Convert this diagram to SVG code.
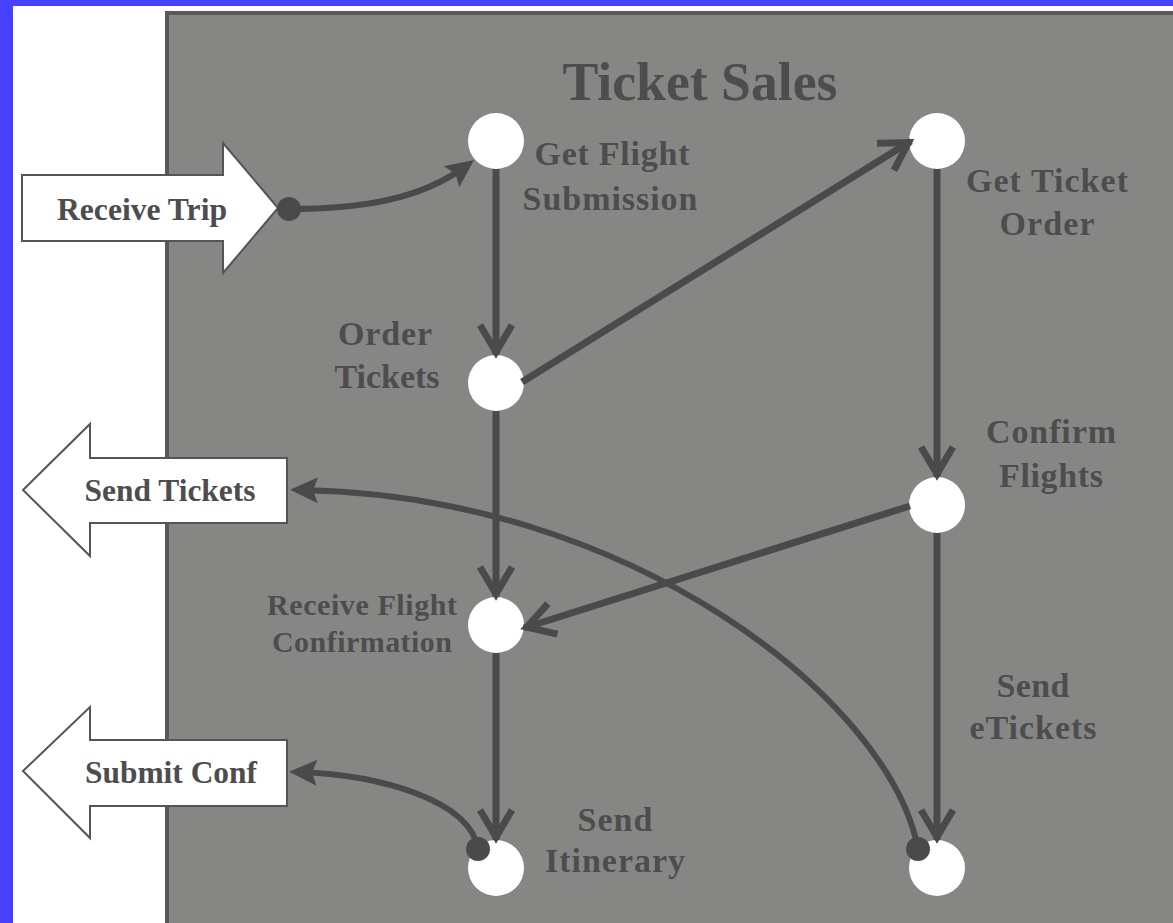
<svg xmlns="http://www.w3.org/2000/svg" width="1173" height="923" viewBox="0 0 1173 923">
<style>
.lbl{font-family:"Liberation Serif","Times New Roman",serif;font-weight:bold;fill:#4d4d4d;text-anchor:middle}
.big{fill:#ffffff;stroke:#555555;stroke-width:2}
.node{fill:#ffffff}
.ln{fill:none;stroke:#4a4a4a;stroke-width:7}
.cv{fill:none;stroke:#4a4a4a;stroke-width:6}
.dot{fill:#4a4a4a}
</style>
<defs>
<marker id="v" markerUnits="userSpaceOnUse" viewBox="-40 -25 50 50" markerWidth="50" markerHeight="50" refX="0" refY="0" orient="auto" overflow="visible">
<path d="M-30,-16 L-3,0 L-30,16" fill="none" stroke="#4a4a4a" stroke-width="7" stroke-linejoin="miter"/>
</marker>
<marker id="f" markerUnits="userSpaceOnUse" viewBox="-30 -20 45 40" markerWidth="45" markerHeight="40" refX="0" refY="0" orient="auto" overflow="visible">
<path d="M10,0 L-18,-13 L-13,0 L-18,13 Z" fill="#4a4a4a"/>
</marker>
</defs>
<rect x="0" y="0" width="1173" height="923" fill="#4541ff"/>
<rect x="13" y="6" width="1160" height="917" fill="#ffffff"/>
<rect x="167" y="13" width="1020" height="925" fill="#868785" stroke="#595959" stroke-width="4"/>
<text class="lbl" x="700" y="100" font-size="54" textLength="275" lengthAdjust="spacingAndGlyphs">Ticket Sales</text>

<g id="receive-trip">
<polygon class="big" points="22,175 223,175 223,143 278,208 223,273 223,241 22,241"/>
<text class="lbl" x="142" y="220" font-size="32" textLength="170" lengthAdjust="spacingAndGlyphs" fill="#444444">Receive Trip</text>
</g>
<g id="send-tickets">
<polygon class="big" points="287,458 90,458 90,424 23,490 90,556 90,523 287,523"/>
<text class="lbl" x="170" y="501" font-size="32" textLength="171" lengthAdjust="spacingAndGlyphs">Send Tickets</text>
</g>
<g id="submit-conf">
<polygon class="big" points="287,740 90,740 90,707 23,771 90,838 90,806 287,806"/>
<text class="lbl" x="171" y="783" font-size="32" textLength="172" lengthAdjust="spacingAndGlyphs">Submit Conf</text>
</g>

<g id="get-flight-submission">
<circle class="node" cx="496" cy="141" r="28"/>
<text class="lbl" x="612" y="165" font-size="34" textLength="155">Get Flight</text>
<text class="lbl" x="610" y="210" font-size="34" textLength="175">Submission</text>
</g>
<g id="get-ticket-order">
<circle class="node" cx="937" cy="141" r="28"/>
<text class="lbl" x="1047" y="192" font-size="34" textLength="162">Get Ticket</text>
<text class="lbl" x="1047" y="235" font-size="34" textLength="95">Order</text>
</g>
<g id="order-tickets">
<circle class="node" cx="496" cy="383" r="28"/>
<text class="lbl" x="385" y="345" font-size="34" textLength="94">Order</text>
<text class="lbl" x="387" y="388" font-size="34" textLength="105">Tickets</text>
</g>
<g id="confirm-flights">
<circle class="node" cx="937" cy="505" r="28"/>
<text class="lbl" x="1051" y="443" font-size="34" textLength="130">Confirm</text>
<text class="lbl" x="1051" y="487" font-size="34" textLength="104">Flights</text>
</g>
<g id="receive-flight-confirmation">
<circle class="node" cx="496" cy="625" r="28"/>
<text class="lbl" x="362" y="615" font-size="30" textLength="190">Receive Flight</text>
<text class="lbl" x="362" y="652" font-size="30" textLength="180">Confirmation</text>
</g>
<g id="send-itinerary">
<circle class="node" cx="496" cy="868" r="28"/>
<text class="lbl" x="615" y="831" font-size="34" textLength="75">Send</text>
<text class="lbl" x="615" y="872" font-size="34" textLength="140">Itinerary</text>
</g>
<g id="send-etickets">
<circle class="node" cx="937" cy="868" r="28"/>
<text class="lbl" x="1033" y="697" font-size="34" textLength="73">Send</text>
<text class="lbl" x="1033" y="739" font-size="34" textLength="127">eTickets</text>
</g>

<g id="connectors">
<path class="ln" d="M496,169 L496,355" marker-end="url(#v)"/>
<path class="ln" d="M496,411 L496,597" marker-end="url(#v)"/>
<path class="ln" d="M496,653 L496,840" marker-end="url(#v)"/>
<path class="ln" d="M937,169 L937,477" marker-end="url(#v)"/>
<path class="ln" d="M937,533 L937,840" marker-end="url(#v)"/>
<path class="ln" d="M522,382 L911,141" marker-end="url(#v)"/>
<path class="ln" d="M910,506 L524,628" marker-end="url(#v)"/>
<path class="cv" d="M289,209 C360,209 420,200 466,166" marker-end="url(#f)"/>
<path class="cv" d="M918,849 C890,700 630,495 300,490" marker-end="url(#f)"/>
<path class="cv" d="M478,849 C470,800 380,775 299,772" marker-end="url(#f)"/>
<circle class="dot" cx="289" cy="209" r="12"/>
<circle class="dot" cx="918" cy="849" r="12"/>
<circle class="dot" cx="478" cy="849" r="12"/>
</g>
</svg>
